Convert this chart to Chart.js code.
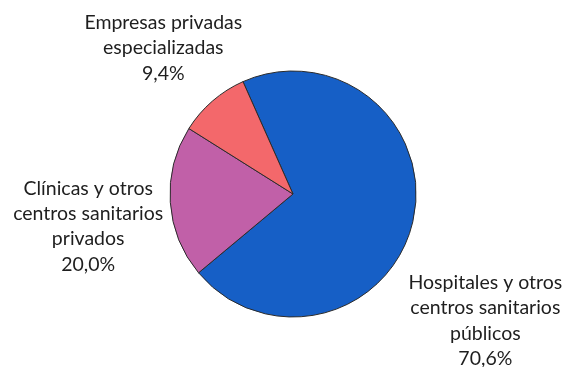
<!DOCTYPE html>
<html>
<head>
<meta charset="utf-8">
<script src="https://cdn.jsdelivr.net/npm/chart.js@4"></script>
<style>
  html, body { margin: 0; padding: 0; background: #fff; }
  #wrap { width: 569px; height: 367px; }
</style>
</head>
<body>
<div id="wrap"><canvas id="pie"></canvas></div>
<script>
const categories = [
  ['Hospitales y otros', 'centros sanitarios', 'públicos'],
  ['Clínicas y otros', 'centros sanitarios', 'privados'],
  ['Empresas privadas', 'especializadas']
];
const shares = [70.6, 20.0, 9.4];
const colors = ['#165fc6', '#c160a8', '#f3686b'];

// where each label block is centred (fraction of canvas width / height)
const labelSpots = [
  [0.853, 0.874],
  [0.155, 0.617],
  [0.287, 0.131]
];

const outsideLabels = {
  id: 'outsideLabels',
  afterDraw(chart) {
    const ctx = chart.ctx;
    const lh = 25.3;
    ctx.save();
    ctx.font = '19.5px Lato, "Open Sans", sans-serif';
    ctx.fillStyle = '#1e1e1e';
    ctx.textAlign = 'center';
    ctx.textBaseline = 'middle';
    chart.data.labels.forEach((lines, i) => {
      const all = lines.concat([shares[i].toFixed(1).replace('.', ',') + '%']);
      const cx = labelSpots[i][0] * chart.width;
      const cy = labelSpots[i][1] * chart.height;
      const top = cy - (all.length - 1) * lh / 2;
      all.forEach((t, k) => ctx.fillText(t, cx, top + k * lh));
    });
    ctx.restore();
  }
};

new Chart(document.getElementById('pie').getContext('2d'), {
  type: 'pie',
  data: {
    labels: categories,
    datasets: [{
      data: shares,
      backgroundColor: colors,
      borderColor: '#2b2b2b',
      borderWidth: 1,
      hoverOffset: 0
    }]
  },
  options: {
    responsive: true,
    maintainAspectRatio: false,
    animation: false,
    rotation: -24,
    radius: 123,
    layout: { padding: { left: 17, right: 0, top: 21, bottom: 0 } },
    plugins: {
      legend: { display: false },
      tooltip: { enabled: false }
    }
  },
  plugins: [outsideLabels]
});
</script>
</body>
</html>
